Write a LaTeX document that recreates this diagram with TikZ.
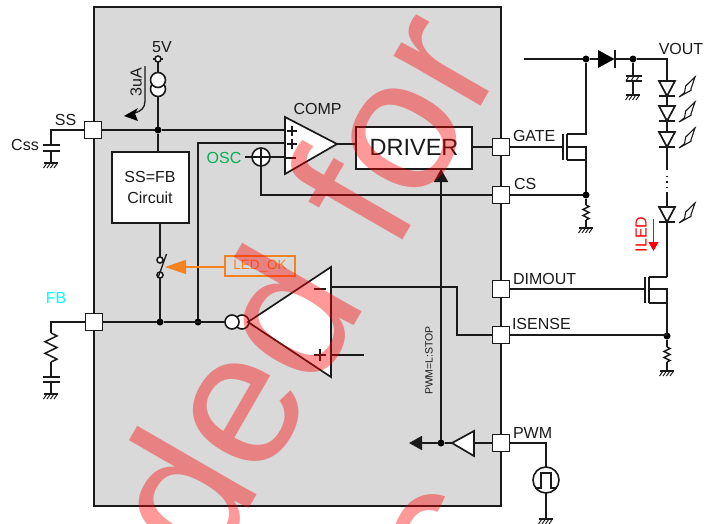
\documentclass[tikz,border=0pt]{standalone}
\usepackage{fontspec}
\setmainfont{Liberation Sans}
\usetikzlibrary{arrows.meta,calc}
\definecolor{ink}{HTML}{1A1A1A}
\definecolor{panel}{HTML}{D9D9D9}
\definecolor{ledorange}{HTML}{F58220}
\definecolor{oscgreen}{HTML}{00B050}
\definecolor{fbcyan}{HTML}{00FFFF}
\definecolor{pureRed}{HTML}{FF0000}
\tikzset{
  x=1pt,y=-1pt,
  wire/.style={draw=ink,line width=1.7pt,line join=miter},
  thin wire/.style={draw=ink,line width=1.3pt},
  pad/.style={draw=ink,fill=white,line width=1.7pt,minimum size=17pt,inner sep=0pt,outer sep=0pt},
  jdot/.style={circle,fill=black,minimum size=7pt,inner sep=0pt,outer sep=0pt},
  ring/.style={circle,draw=ink,fill=white,line width=1.6pt,inner sep=0pt,outer sep=0pt},
  block/.style={draw=ink,fill=white,line width=1.7pt,inner sep=0pt,outer sep=0pt,align=center},
  lbl/.style={inner sep=0pt,outer sep=0pt,text=ink,font=\fontsize{16}{20}\selectfont},
  lblw/.style={lbl,anchor=west},
  sym/.style={draw=ink,fill=white,line width=1.7pt,line join=miter},
  signmark/.style={draw=ink,line width=1.4pt},
  headtip/.style={-{Triangle[length=13pt,width=14pt]}},
  gnd/.pic={
    \draw[thin wire] (-7,0)--(7,0);
    \foreach \q in {-4,-.5,3,6.5}{\draw[draw=ink,line width=1pt] (\q,0)--(\q-3.5,5);}
  },
  res/.pic={
    \draw[draw=ink,line width=1.5pt] (0,0)--(1,.1)--(-1,.3)--(1,.5)--(-1,.7)--(1,.9)--(0,1);
  },
  ledsym/.pic={
    \draw[sym] (-8,0)--(8,0)--(0,15)--cycle;
    \draw[wire] (-8,15)--(8,15);
    \draw[draw=ink,fill=white,line width=1.1pt,line join=miter] (12,16)--(17.5,11.7)--(18.7,5)--(28,-4)--(24,7.7)--(24,9.3)--cycle;
  },
  watermark/.style={inner sep=0pt,outer sep=0pt,text=pureRed,text opacity=.4,rotate=60,
    anchor=base west,font=\fontsize{190}{190}\selectfont},
}
\begin{document}
\begin{tikzpicture}
\useasboundingbox (0,0) rectangle (712,523);
\fill[white] (0,0) rectangle (712,523);
\draw[draw=ink,fill=panel,line width=1.7pt] (94,7) rectangle (501,506);

% pads
\node[pad] (ss) at (93,130) {};
\node[pad] (fb) at (94,322) {};
\node[pad] (gate) at (501,147) {};
\node[pad] (cs) at (501,195) {};
\node[pad] (dimout) at (501,289) {};
\node[pad] (isense) at (501,335) {};
\node[pad] (pwm) at (501,443) {};

% blocks
\node[block,minimum width=77pt,minimum height=71pt] (ssfb) at (150.5,187.5) {};
\node[block,minimum width=116pt,minimum height=42pt] (driver) at (414,148) {};

% junctions
\node[jdot] (jss) at (158,130) {};
\node[jdot] (jfb1) at (160,322) {};
\node[jdot] (jfb2) at (198,322) {};
\node[jdot] (jdrain) at (586,59) {};
\node[jdot] (jout) at (633,59) {};
\node[jdot] (jcs) at (586,195) {};
\node[jdot] (jis) at (667,336) {};
\node[jdot] (jpwm) at (441,443) {};

% left side
\coordinate (c5v) at (158,59);
\coordinate (cssL) at (51,130);
\coordinate (cssT) at (51,145);
\coordinate (cssB) at (51,151);
\coordinate (cssG) at (51,163);
\draw[wire] (ss) -- (cssL) -- (cssT);
\draw[wire] (43,145)--(60,145) (43,151)--(60,151);
\draw[wire] (cssB) -- (cssG);
\pic at (cssG) {gnd};

\coordinate (fbL) at (51,322);
\draw[wire] (fb) -- (fbL) -- (51,333);
\pic[xscale=6,yscale=29] at (51,333) {res};
\draw[wire] (51,362) -- (51,377);
\draw[wire] (43,377)--(60,377) (43,382)--(60,382);
\draw[wire] (51,382) -- (51,394);
\pic at (51,394) {gnd};

% SS rail
\coordinate (compA) at (285,130);
\coordinate (compB) at (285,143);
\coordinate (compC) at (285,157);
\draw[wire] (ss) -- (jss) -- (compA);
\draw[wire] (c5v) -- (jss) -- (ssfb.north -| jss);
\draw[wire] (jfb2) -- (198,143) -- (compB);

% current source
\node[ring,minimum size=15pt] (isrc2) at (158,89) {};
\node[ring,minimum size=15pt] (isrc1) at (158,80) {};
\node[ring,minimum size=6pt] (v5) at (c5v) {};
\draw[draw=ink,line width=1.2pt] (153,59)--(v5) (v5)--(163,59);
\draw[thin wire] (145,66) -- (145,101) .. controls (145,108) and (141,111) .. (135,113);
\fill[black] (124,116)--(138,108)--(135,113.5)--(138,121)--cycle;

% comparator
\draw[sym] (285,117)--(337,144)--(285,174)--cycle;
\coordinate (compOut) at (337,144);
\node[ring,minimum size=18pt] (osc) at (261,157) {};
\draw[wire] (osc.west) -- (245,157);
\draw[wire] (osc.east) -- (compC);
\draw[wire] (osc.north)--(osc.south);
\draw[wire] (osc.west)--(osc.east);
\draw[wire] (compOut) -- (driver.west |- compOut);
\draw[wire] (osc.south) -- (261,195) -- (cs);
\draw[signmark] (287,131)--(297,131) (292,126)--(292,136);
\draw[signmark] (287,144)--(297,144) (292,139)--(292,149);
\draw[signmark] (285,158)--(296,158);
\draw[wire] (driver.east |- gate) -- (gate);

% switch
\coordinate (swT) at (160,260);
\coordinate (swB) at (160,275);
\draw[wire] (swB) -- (jfb1);
\draw[wire] (ssfb.south -| swT) -- (swT);
\node[ring,minimum size=6pt] (sw1) at (swT) {};
\node[ring,minimum size=6pt] (sw2) at (swB) {};
\draw[thin wire] (158,278)--(166.5,254);

% LED_OK
\node[draw=ledorange,fill=none,line width=1.2pt,minimum width=70pt,minimum height=20pt,inner sep=0pt,outer sep=0pt,text=ledorange,font=\fontsize{13.5}{16}\selectfont] (ledok) at (260,266) {LED\_OK};
\coordinate (swtip) at (165,267);
\draw[draw=ledorange,line width=1.2pt,-{Triangle[length=21pt,width=14pt,fill=ledorange]}] (ledok.west |- swtip) -- (swtip);

% OTA
\node[ring,minimum size=14pt] (ota2) at (242,322) {};
\node[ring,minimum size=14pt] (ota1) at (232,322) {};
\draw[wire] (jfb1) -- (fb);
\draw[wire] (jfb1) -- (ota1);
\draw[sym] (248,322)--(331,267)--(331,377)--cycle;
\coordinate (otaM) at (331,287);
\coordinate (otaP) at (331,355);
\coordinate (otaE) at (364,355);
\draw[wire] (otaM) -- (457,287) -- (457,335) -- (isense);
\draw[wire] (otaP) -- (otaE);
\draw[signmark] (314,289)--(326,289);
\draw[signmark] (314,355)--(326,355) (320,349)--(320,361);

% PWM path
\draw[wire,headtip] (jpwm) -- (441,169);
\draw[sym] (452,443)--(474,431)--(474,456)--cycle;
\draw[wire] (474,443) -- (pwm);
\draw[wire] (452,443) -- (jpwm);
\draw[wire,headtip] (jpwm) -- (409,443);

\node[ring,minimum size=26pt] (pulse) at (546,480) {};
\draw[wire] (pwm) -- (546,443) -- (pulse.north);
\draw[thin wire] (535,488)--(541,488)--(541,473)--(551,473)--(551,488)--(557,488);
\draw[wire] (pulse.south) -- (546,519);
\pic at (546,519) {gnd};

% gate MOSFET
\draw[wire] (gate) -- (563,147);
\draw[wire] (563,134)--(563,160);
\draw[wire] (567,134)--(567,160);
\draw[wire] (567,134)--(586,134)--(jdrain);
\draw[wire] (567,147)--(586,147)--(jcs);
\draw[wire] (567,160)--(586,160);
\draw[wire] (cs) -- (jcs);
\draw[wire] (jcs) -- (586,205);
\pic[xscale=3,yscale=15] at (586,205) {res};
\draw[wire] (586,220) -- (586,228);
\pic at (586,228) {gnd};

% diode and output
\coordinate (rail) at (524,59);
\coordinate (vout) at (667,59);
\draw[wire] (rail) -- (jdrain) -- (598,59);
\fill[black] (598,50)--(614.5,59)--(598,68)--cycle;
\draw[wire] (615,50)--(615,68);
\draw[wire] (615,59) -- (jout) -- (vout) -- (667,81);
\draw[wire] (jout) -- (633,76);
\draw[wire] (626,76)--(642,76) (626,81)--(642,81);
\foreach \q in {629,634,639}{\draw[draw=ink,line width=1pt] (\q,76)--(\q-3,81);}
\draw[wire] (633,81) -- (633,95);
\pic at (633,95) {gnd};

% LEDs
\pic at (667,81) {ledsym};
\draw[wire] (667,96)--(667,106);
\pic at (667,106) {ledsym};
\draw[wire] (667,121)--(667,132);
\pic at (667,132) {ledsym};
\draw[wire] (667,147)--(667,170);
\draw[draw=ink,line width=1.2pt,dash pattern=on 1.2pt off 4.6pt] (667,175.5)--(667,189);
\draw[wire] (667,192)--(667,207);
\pic at (667,207) {ledsym};
\draw[wire] (667,222)--(667,277);

% DIM MOSFET
\draw[wire] (dimout) -- (645,289);
\draw[wire] (645,277)--(645,303);
\draw[wire] (649,277)--(649,303);
\draw[wire] (649,277)--(667,277);
\draw[wire] (649,289)--(667,289)--(jis);
\draw[wire] (649,303)--(667,303);
\draw[wire] (isense) -- (isense -| jis) -- (jis);
\draw[wire] (jis) -- (667,347);
\pic[xscale=3,yscale=15] at (667,347) {res};
\draw[wire] (667,362) -- (667,371);
\pic at (667,371) {gnd};

% ILED
\draw[draw=pureRed,line width=1pt,-{Triangle[length=9pt,width=10pt,fill=pureRed]}] (653.5,219) -- (653.5,251);
\node[lbl,text=pureRed,rotate=90] (iled) at (641,234.5) {ILED};

% labels
\node[lbl] (t5v) at (162,47.5) {5V};
\node[lbl,rotate=90] (t3ua) at (136,82) {3uA};
\node[lbl] (tss) at (65.5,120) {SS};
\node[lbl] (tcss) at (25,145) {Css};
\node[lbl,text=fbcyan] (tfb) at (56,298) {FB};
\node[lbl] (tsf) at (150,177) {SS=FB};
\node[lbl] (tcir) at (150,198) {Circuit};
\node[lbl] (tcomp) at (317.5,109) {COMP};
\node[lbl,text=oscgreen] (tosc) at (224,158) {OSC};
\node[lbl,font=\fontsize{23.5}{26}\selectfont] (tdrv) at (414,147.5) {DRIVER};
\node[lbl,rotate=90,font=\fontsize{10.5}{12}\selectfont] (tstop) at (429,360.5) {PWM=L:STOP};
\node[lbl] (tvout) at (681,49) {VOUT};
\node[lblw] (tgate) at (513,136) {GATE};
\node[lblw] (tcs) at (514,184) {CS};
\node[lblw] (tdim) at (513,279) {DIMOUT};
\node[lblw] (tisn) at (512,324) {ISENSE};
\node[lblw] (tpwm) at (513,433) {PWM};

% watermark
\begin{scope}
\clip (0,0) rectangle (712,523);
\node[watermark] (wm1) at (210,575) {ded for};
\end{scope}
\begin{scope}
\clip (0,0) rectangle (452,523);
\node[watermark] (wm2) at (463,610) {c};
\end{scope}
\end{tikzpicture}
\end{document}
